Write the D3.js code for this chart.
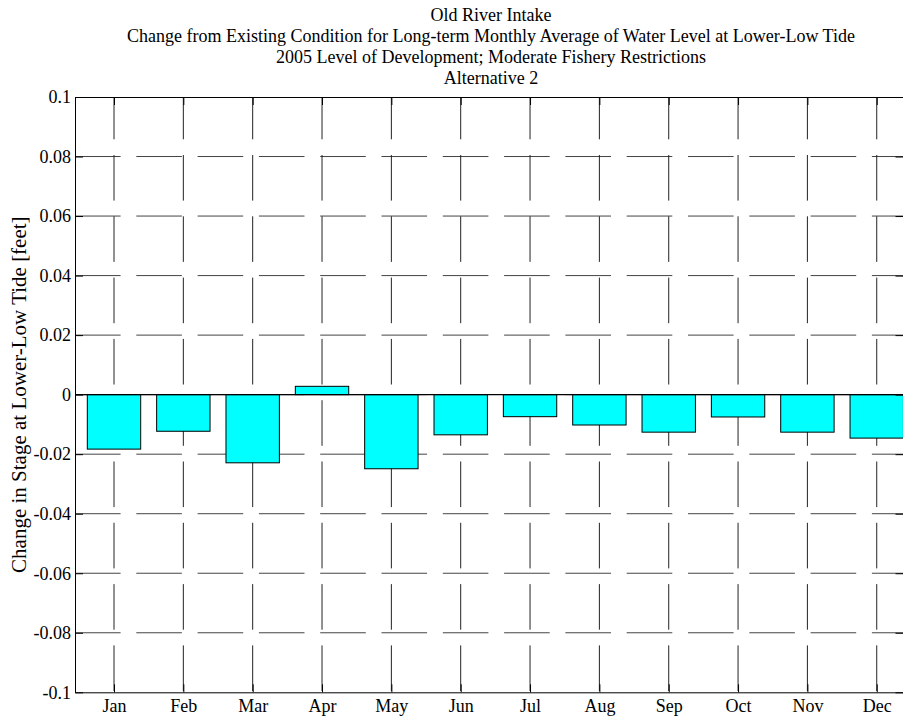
<!DOCTYPE html>
<html>
<head>
<meta charset="utf-8">
<script src="https://cdn.jsdelivr.net/npm/d3@7"></script>
<style>
  body { margin: 0; background: #fff; }
  svg { display: block; }
  text { font-family: "Liberation Serif", "Times New Roman", serif; fill: #000; }
</style>
</head>
<body>
<svg id="chart" width="903" height="721"></svg>
<script>
// ---- data ----
const months = ["Jan","Feb","Mar","Apr","May","Jun","Jul","Aug","Sep","Oct","Nov","Dec"];
const values = [-0.0183, -0.0123, -0.0229, 0.0028, -0.0249, -0.0135, -0.0074, -0.0102, -0.0126, -0.0075, -0.0126, -0.0146];
const yTickValues = [0.1, 0.08, 0.06, 0.04, 0.02, 0, -0.02, -0.04, -0.06, -0.08, -0.1];
const yTickLabels = ["0.1", "0.08", "0.06", "0.04", "0.02", "0", "-0.02", "-0.04", "-0.06", "-0.08", "-0.1"];
const titleLines = [
  "Old River Intake",
  "Change from Existing Condition for Long-term Monthly Average of Water Level at Lower-Low Tide",
  "2005 Level of Development; Moderate Fishery Restrictions",
  "Alternative 2"
];
const yLabel = "Change in Stage at Lower-Low Tide [feet]";

// ---- layout ----
const svg = d3.select("#chart");
const plotL = 75, plotT = 97, plotB = 692.3, plotR = 903.5;
const step = 69.34;
const xFirst = 114;
const xMin = 1 - (xFirst - plotL) / step;
const xMax = 1 + (plotR - xFirst) / step;

const x = d3.scaleLinear().domain([xMin, xMax]).range([plotL, plotR]);
const y = d3.scaleLinear().domain([-0.1, 0.1]).range([plotB, plotT]);
const barW = 0.77;

svg.append("rect").attr("width", 903).attr("height", 721).attr("fill", "#fff");

// grid
const grid = svg.append("g");
grid.selectAll("line.h").data(yTickValues.filter(v => v !== 0.1 && v !== -0.1))
  .join("line").attr("class", "h")
  .attr("x1", plotL).attr("x2", plotR)
  .attr("y1", d => y(d)).attr("y2", d => y(d))
  .attr("stroke", "#444").attr("stroke-width", 1)
  .attr("stroke-dasharray", "45.6,15.7").attr("stroke-dashoffset", 0);
grid.selectAll("line.v").data(d3.range(1, 13))
  .join("line").attr("class", "v")
  .attr("x1", d => x(d)).attr("x2", d => x(d))
  .attr("y1", plotT).attr("y2", plotB)
  .attr("stroke", "#222").attr("stroke-width", 1)
  .attr("stroke-dasharray", "45.6,15.7").attr("stroke-dashoffset", 3.3);

// bars
svg.append("g").selectAll("rect").data(values).join("rect")
  .attr("x", (d, i) => x(i + 1 - barW / 2))
  .attr("width", x(1 + barW) - x(1))
  .attr("y", d => y(Math.max(0, d)))
  .attr("height", d => Math.abs(y(d) - y(0)))
  .attr("fill", "#00ffff").attr("stroke", "#000").attr("stroke-width", 1);

// baseline
svg.append("line").attr("x1", plotL).attr("x2", plotR)
  .attr("y1", y(0)).attr("y2", y(0)).attr("stroke", "#000").attr("stroke-width", 1.2);

// axes
const yAxis = d3.axisLeft(y).tickValues(yTickValues)
  .tickFormat((d, i) => yTickLabels[i]).tickSizeInner(-8).tickSizeOuter(0).tickPadding(4);
const gy = svg.append("g").attr("transform", `translate(${plotL},0)`).call(yAxis);
gy.select(".domain").attr("stroke", "#000");
gy.selectAll(".tick line").attr("stroke", "#000");
gy.selectAll("text").style("font-size", "18px").attr("font-family", null);

const yRight = d3.axisRight(y).tickValues(yTickValues).tickFormat("").tickSizeInner(-8).tickSizeOuter(0);
svg.append("g").attr("transform", `translate(${plotR},0)`).call(yRight)
  .selectAll("line, path").attr("stroke", "#000");

const xAxis = d3.axisBottom(x).tickValues(d3.range(1, 13))
  .tickFormat(d => months[d - 1]).tickSizeInner(-8).tickSizeOuter(0).tickPadding(6);
const gx = svg.append("g").attr("transform", `translate(0,${plotB})`).call(xAxis);
gx.select(".domain").attr("stroke", "#000");
gx.selectAll("text").style("font-size", "18px").attr("font-family", null).attr("y", 19.5).attr("dy", 0);

const xTop = d3.axisTop(x).tickValues(d3.range(1, 13)).tickFormat("").tickSizeInner(-8).tickSizeOuter(0);
const gxt = svg.append("g").attr("transform", `translate(0,${plotT})`).call(xTop);
gxt.select(".domain").attr("stroke", "#000");

// y label
svg.append("text")
  .attr("transform", `translate(26,${(plotT + plotB) / 2}) rotate(-90)`)
  .attr("text-anchor", "middle").style("font-size", "21px")
  .text(yLabel);

// title
const tBase = [20.7, 41.9, 63.1, 84.3];
svg.append("g").selectAll("text").data(titleLines).join("text")
  .attr("x", 491).attr("y", (d, i) => tBase[i])
  .attr("text-anchor", "middle").style("font-size", "18px")
  .text(d => d);
</script>
</body>
</html>
